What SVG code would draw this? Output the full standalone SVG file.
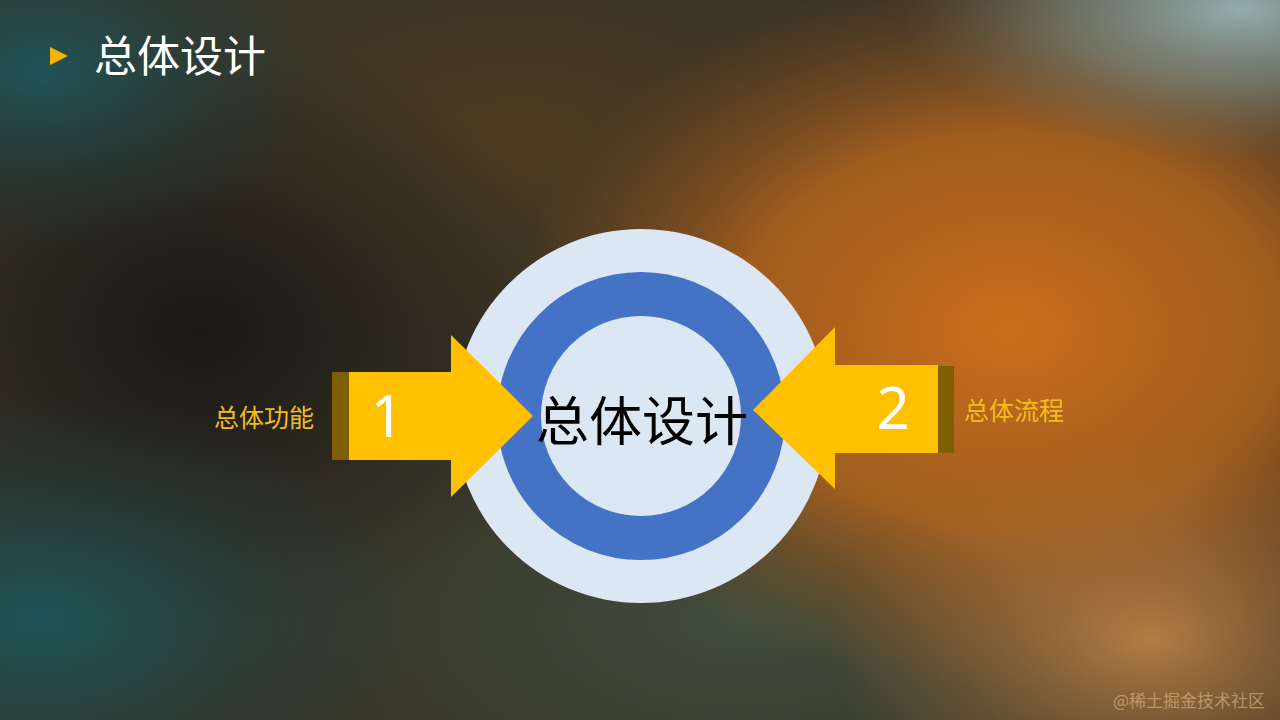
<svg xmlns="http://www.w3.org/2000/svg" width="1280" height="720" viewBox="0 0 1280 720">
  <defs>
    <radialGradient id="gOrange" cx="0.5" cy="0.5" r="0.5">
      <stop offset="0" stop-color="#cc6e1c" stop-opacity="1"/>
      <stop offset="0.55" stop-color="#b8661c" stop-opacity="0.8"/>
      <stop offset="1" stop-color="#8a5020" stop-opacity="0"/>
    </radialGradient>
    <radialGradient id="gGrayBlue" cx="0.5" cy="0.5" r="0.5">
      <stop offset="0" stop-color="#94adad" stop-opacity="1"/>
      <stop offset="0.5" stop-color="#84948a" stop-opacity="0.6"/>
      <stop offset="1" stop-color="#707060" stop-opacity="0"/>
    </radialGradient>
    <radialGradient id="gTealTL" cx="0.5" cy="0.5" r="0.5">
      <stop offset="0" stop-color="#215458" stop-opacity="1"/>
      <stop offset="1" stop-color="#1d3a3a" stop-opacity="0"/>
    </radialGradient>
    <radialGradient id="gTealBL" cx="0.5" cy="0.5" r="0.5">
      <stop offset="0" stop-color="#1f5558" stop-opacity="1"/>
      <stop offset="1" stop-color="#1d3f40" stop-opacity="0"/>
    </radialGradient>
    <radialGradient id="gDark" cx="0.5" cy="0.5" r="0.5">
      <stop offset="0" stop-color="#1a1815" stop-opacity="1"/>
      <stop offset="1" stop-color="#1e1e1a" stop-opacity="0"/>
    </radialGradient>
    <radialGradient id="gBrown" cx="0.5" cy="0.5" r="0.5">
      <stop offset="0" stop-color="#4e3c20" stop-opacity="0.9"/>
      <stop offset="1" stop-color="#4a3a20" stop-opacity="0"/>
    </radialGradient>
    <radialGradient id="gOliveBottom" cx="0.5" cy="0.5" r="0.5">
      <stop offset="0" stop-color="#405040" stop-opacity="0.9"/>
      <stop offset="1" stop-color="#3a4a3a" stop-opacity="0"/>
    </radialGradient>
    <radialGradient id="gOrangeBR" cx="0.5" cy="0.5" r="0.5">
      <stop offset="0" stop-color="#c4884a" stop-opacity="0.85"/>
      <stop offset="1" stop-color="#b07038" stop-opacity="0"/>
    </radialGradient>
    <style>
      .cjk { font-family: "Noto Sans CJK SC", "Noto Sans", sans-serif; }
      .num { font-family: "Noto Sans", "Open Sans", sans-serif; fill: #ffffff; font-size: 58px; text-anchor: middle; }
      .lbl { font-family: "Noto Sans CJK SC", sans-serif; fill: #f2bd1c; font-size: 25px; }
      .arrow { fill: #ffc000; }
      .bar { fill: #7f6000; }
    </style>
  </defs>

  <!-- background -->
  <g id="background">
    <rect x="0" y="0" width="1280" height="720" fill="#3a3426"/>
    <ellipse cx="740" cy="620" rx="520" ry="260" fill="url(#gOliveBottom)"/>
    <ellipse cx="520" cy="140" rx="420" ry="220" fill="url(#gBrown)"/>
    <ellipse cx="1010" cy="330" rx="500" ry="360" fill="url(#gOrange)"/>
    <ellipse cx="1150" cy="640" rx="320" ry="200" fill="url(#gOrangeBR)"/>
    <ellipse cx="1240" cy="10" rx="340" ry="150" fill="url(#gGrayBlue)"/>
    <ellipse cx="200" cy="330" rx="380" ry="300" fill="url(#gDark)"/>
    <ellipse cx="40" cy="70" rx="300" ry="180" fill="url(#gTealTL)"/>
    <ellipse cx="40" cy="620" rx="380" ry="220" fill="url(#gTealBL)"/>
  </g>

  <!-- title -->
  <g id="title">
    <polygon points="50,47 68,56 50,65" fill="#f4b400"/>
    <text x="94" y="72" class="cjk" font-size="43" fill="#ffffff">总体设计</text>
  </g>

  <!-- center node -->
  <g id="center">
    <circle cx="641" cy="416" r="187" fill="#dce7f4"/>
    <circle cx="641" cy="416" r="122" fill="none" stroke="#4472c4" stroke-width="44"/>
    <text x="642" y="441" class="cjk" font-size="53" fill="#000000" text-anchor="middle">总体设计</text>
  </g>

  <!-- left arrow -->
  <g id="arrow1">
    <rect x="332" y="372" width="18" height="88" class="bar"/>
    <polygon points="349,372 451,372 451,335 533,416 451,497 451,460 349,460" class="arrow"/>
    <text x="387" y="437" class="num">1</text>
    <text x="214" y="427" class="lbl">总体功能</text>
  </g>

  <!-- right arrow -->
  <g id="arrow2">
    <rect x="937" y="366" width="17" height="87" class="bar"/>
    <polygon points="938,365 835,365 835,327 753,410 835,489 835,453 938,453" class="arrow"/>
    <text x="893" y="429" class="num">2</text>
    <text x="964" y="420" class="lbl">总体流程</text>
  </g>

  <g id="watermark">
    <text x="1113" y="707" class="cjk" font-size="17" fill="#e8c89a" fill-opacity="0.55">@稀土掘金技术社区</text>
  </g>
</svg>
